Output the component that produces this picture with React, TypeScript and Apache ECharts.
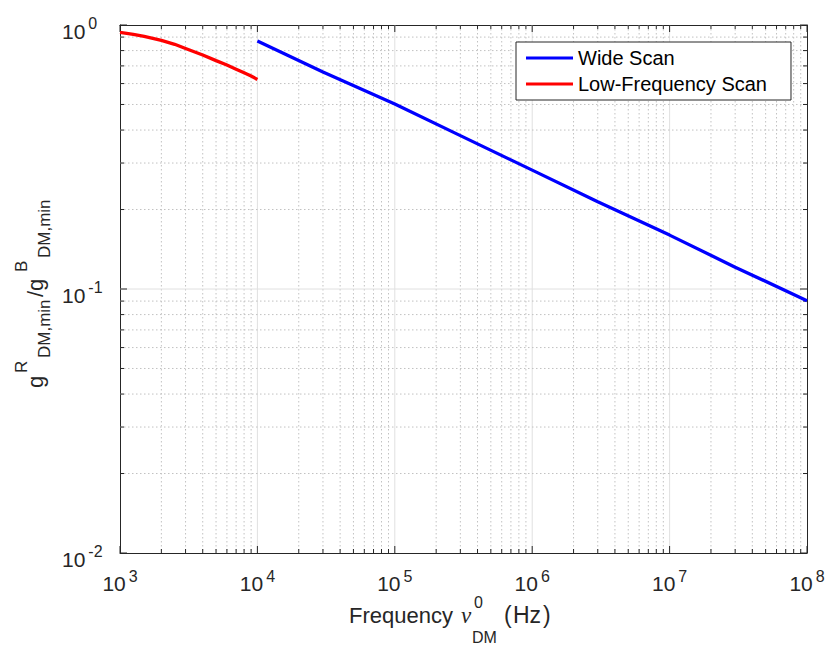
import { useEffect, useRef } from "react";
import * as echarts from "echarts";

// ---- data ----
const xLimits = [1e3, 1e8];
const yLimits = [1e-2, 1];

const wideFreq = [1e4, 3e4, 1e5, 3e5, 1e6, 3e6, 1e7, 3e7, 1e8];
const wideRatio = [0.87, 0.664, 0.502, 0.381, 0.282, 0.214, 0.16, 0.121, 0.0903];

const lowFreq = [1000, 1250, 1500, 2000, 2500, 3000, 4000, 5000, 6000, 7000, 8000, 9000, 10000];
const lowRatio = [0.938, 0.922, 0.905, 0.875, 0.845, 0.815, 0.77, 0.733, 0.705, 0.68, 0.659, 0.641, 0.622];

// major ticks (decades) and their exponent labels
const xDecades = [1e3, 1e4, 1e5, 1e6, 1e7, 1e8];
const xExponents = ["3", "4", "5", "6", "7", "8"];
const yDecades = [1e-2, 1e-1, 1];
const yExponents = ["-2", "-1", "0"];
const minorSteps = [2, 3, 4, 5, 6, 7, 8, 9];

const seriesNames = ["Wide Scan", "Low-Frequency Scan"];

const FONT = "Liberation Sans, Arial, Helvetica, sans-serif";
const AXIS_COLOR = "#262626";
const BASE_SIZE = 21;
const EXP_SIZE = 16;

function minorOf(decades: number[]) {
  const out: number[] = [];
  decades.slice(0, -1).forEach((d) => minorSteps.forEach((m) => out.push(m * d)));
  return out;
}

// [x, y, isMajor, labelIndex]
const xTickData = [
  ...xDecades.map((v, i) => [v, 0.1, 1, i]),
  ...minorOf(xDecades).map((v) => [v, 0.1, 0, -1]),
];
const yTickData = [
  ...yDecades.map((v, i) => [1e4, v, 1, i]),
  ...minorOf(yDecades).map((v) => [1e4, v, 0, -1]),
];

function textEl(text: string, x: number, y: number, size: number) {
  return {
    type: "text",
    x,
    y,
    silent: true,
    style: {
      text,
      font: `${size}px ${FONT}`,
      fill: AXIS_COLOR,
      align: "left",
      verticalAlign: "middle",
    },
  };
}

function expWidth(s: string) {
  let w = 0;
  for (const c of s) w += (c === "-" ? 0.333 : 0.556) * EXP_SIZE;
  return w;
}

const BASE_W = 2 * 0.556 * BASE_SIZE;
const EXP_GAP = 3;

function renderXTicks(params: any, api: any) {
  const v = api.value(0);
  const major = api.value(2) === 1;
  const idx = api.value(3);
  const cs = params.coordSys;
  const px = api.coord([v, 0.1])[0];
  const top = cs.y;
  const bot = cs.y + cs.height;
  const len = major ? 7 : 4;
  const children: any[] = [];
  if (!major) {
    children.push({
      type: "line",
      shape: { x1: px, y1: top, x2: px, y2: bot },
      style: { stroke: "#c2c2c2", lineWidth: 1, lineDash: [1.5, 2.5] },
    });
  } else if (px > cs.x + 1 && px < cs.x + cs.width - 1) {
    children.push({
      type: "line",
      shape: { x1: px, y1: top, x2: px, y2: bot },
      style: { stroke: "#e0e0e0", lineWidth: 1 },
    });
  }
  children.push({
    type: "line",
    shape: { x1: px, y1: bot, x2: px, y2: bot - len },
    style: { stroke: AXIS_COLOR, lineWidth: 1 },
  });
  children.push({
    type: "line",
    shape: { x1: px, y1: top, x2: px, y2: top + len },
    style: { stroke: AXIS_COLOR, lineWidth: 1 },
  });
  if (major && idx >= 0) {
    const exp = xExponents[idx];
    const total = BASE_W + EXP_GAP + expWidth(exp);
    const x0 = px - total / 2;
    children.push(textEl("10", x0, bot + 30, BASE_SIZE));
    children.push(textEl(exp, x0 + BASE_W + EXP_GAP, bot + 23, EXP_SIZE));
  }
  return { type: "group", children };
}

function renderYTicks(params: any, api: any) {
  const v = api.value(1);
  const major = api.value(2) === 1;
  const idx = api.value(3);
  const cs = params.coordSys;
  const py = api.coord([1e4, v])[1];
  const left = cs.x;
  const right = cs.x + cs.width;
  const len = major ? 7 : 4;
  const children: any[] = [];
  if (!major) {
    children.push({
      type: "line",
      shape: { x1: left, y1: py, x2: right, y2: py },
      style: { stroke: "#c2c2c2", lineWidth: 1, lineDash: [1.5, 2.5] },
    });
  } else if (py > cs.y + 1 && py < cs.y + cs.height - 1) {
    children.push({
      type: "line",
      shape: { x1: left, y1: py, x2: right, y2: py },
      style: { stroke: "#e0e0e0", lineWidth: 1 },
    });
  }
  children.push({
    type: "line",
    shape: { x1: left, y1: py, x2: left + len, y2: py },
    style: { stroke: AXIS_COLOR, lineWidth: 1 },
  });
  children.push({
    type: "line",
    shape: { x1: right, y1: py, x2: right - len, y2: py },
    style: { stroke: AXIS_COLOR, lineWidth: 1 },
  });
  if (major && idx >= 0) {
    const exp = yExponents[idx];
    const x0 = left - 58;
    children.push(textEl("10", x0, py + 6.5, BASE_SIZE));
    children.push(textEl(exp, x0 + BASE_W + EXP_GAP, py - 1.5, EXP_SIZE));
  }
  return { type: "group", children };
}

function txt(
  text: string,
  x: number,
  y: number,
  size: number,
  rotation = 0,
  extra: any = {}
) {
  return {
    type: "text",
    x,
    y,
    rotation,
    silent: true,
    z: 10,
    style: {
      text,
      fontSize: size,
      fontFamily: FONT,
      fill: AXIS_COLOR,
      align: "left",
      verticalAlign: "middle",
      textAlign: "left",
      textVerticalAlign: "middle",
      ...extra,
    },
  };
}

export default function App() {
  const ref = useRef<HTMLDivElement>(null);

  useEffect(() => {
    if (!ref.current) return;
    const chart = echarts.init(ref.current, undefined, { renderer: "svg" });
    const R = Math.PI / 2;

    const baseAxis = (position: string) => ({
      type: "log",
      logBase: 10,
      position,
      axisLine: { show: true, lineStyle: { color: AXIS_COLOR, width: 1 } },
      axisTick: { show: false },
      splitLine: { show: false },
      axisLabel: { show: false },
    });

    const option: any = {
      animation: false,
      backgroundColor: "#ffffff",
      grid: { left: 120, top: 25, width: 687, height: 528, containLabel: false },
      legend: {
        data: seriesNames,
        orient: "vertical",
        left: 516,
        top: 42,
        icon: "rect",
        itemWidth: 47,
        itemHeight: 3,
        itemGap: 6,
        padding: [6, 24, 6, 10],
        backgroundColor: "#ffffff",
        borderColor: AXIS_COLOR,
        borderWidth: 1,
        borderRadius: 0,
        textStyle: { fontSize: 20, fontFamily: FONT, color: "#000000" },
      },
      xAxis: [
        { ...baseAxis("bottom"), min: xLimits[0], max: xLimits[1] },
        { ...baseAxis("top"), min: xLimits[0], max: xLimits[1] },
      ],
      yAxis: [
        { ...baseAxis("left"), min: yLimits[0], max: yLimits[1] },
        { ...baseAxis("right"), min: yLimits[0], max: yLimits[1] },
      ],
      series: [
        {
          type: "custom",
          name: "xgrid",
          silent: true,
          z: 1,
          clip: false,
          xAxisIndex: 0,
          yAxisIndex: 0,
          encode: { x: 0, y: 1 },
          renderItem: renderXTicks,
          data: xTickData,
        },
        {
          type: "custom",
          name: "ygrid",
          silent: true,
          z: 1,
          clip: false,
          xAxisIndex: 0,
          yAxisIndex: 0,
          encode: { x: 0, y: 1 },
          renderItem: renderYTicks,
          data: yTickData,
        },
        {
          type: "line",
          name: seriesNames[0],
          z: 5,
          showSymbol: false,
          symbol: "none",
          color: "#0000ff",
          lineStyle: { color: "#0000ff", width: 3.3 },
          data: wideFreq.map((f, i) => [f, wideRatio[i]]),
        },
        {
          type: "line",
          name: seriesNames[1],
          z: 5,
          showSymbol: false,
          symbol: "none",
          color: "#ff0000",
          lineStyle: { color: "#ff0000", width: 3.3 },
          data: lowFreq.map((f, i) => [f, lowRatio[i]]),
        },
      ],
      graphic: [
        // x-axis title
        txt("Frequency", 349, 615, 22),
        txt("\u03bd", 461, 615, 23, 0, {
          fontFamily: "Liberation Serif, DejaVu Serif, serif",
          fontStyle: "italic",
        }),
        txt("0", 474, 602, 16),
        txt("DM", 472, 637, 16),
        txt("(", 504, 615, 23),
        txt("Hz", 513, 615, 23),
        txt(")", 543, 615, 23),
        // y-axis title (rotated)
        txt("g", 35, 388, 22, R),
        txt("R", 21, 373, 17, R),
        txt("DM,min", 44, 358, 17, R),
        txt("/g", 35, 297, 22, R),
        txt("B", 21, 272, 17, R),
        txt("DM,min", 44, 258, 17, R),
      ],
    };

    chart.setOption(option);
    return () => chart.dispose();
  }, []);

  return (
    <div
      ref={ref}
      style={{ position: "fixed", left: 0, top: 0, width: 830, height: 645, background: "#fff" }}
    />
  );
}
